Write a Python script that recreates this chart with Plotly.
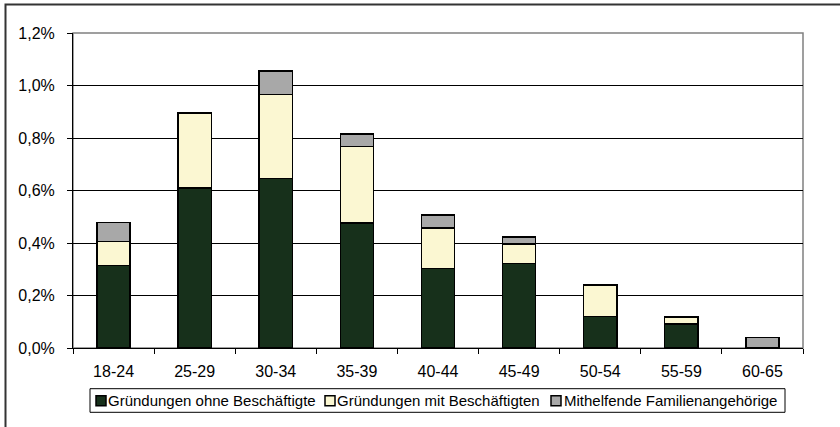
import plotly.graph_objects as go

categories = ["18-24", "25-29", "30-34", "35-39", "40-44", "45-49", "50-54", "55-59", "60-65"]
# values in percent
ohne = [0.315, 0.610, 0.645, 0.476, 0.303, 0.322, 0.120, 0.091, 0.0]
mit = [0.091, 0.286, 0.321, 0.292, 0.154, 0.075, 0.120, 0.027, 0.0]
mithelfend = [0.072, 0.0, 0.089, 0.048, 0.050, 0.026, 0.0, 0.0, 0.040]
series_names = ["Gründungen ohne Beschäftigte", "Gründungen mit Beschäftigten", "Mithelfende Familienangehörige"]
colors = ["#17301b", "#fbf7d2", "#a8a8a8"]
y_ticks = [0, 0.2, 0.4, 0.6, 0.8, 1.0, 1.2]

fig = go.Figure()
for name, vals, col in zip(series_names, [ohne, mit, mithelfend], colors):
    fig.add_trace(go.Bar(
        x=categories, y=[v / 100 for v in vals], name=name,
        marker=dict(color=col, line=dict(color="#000000", width=1.5)),
    ))

L, R, T, B = 73, 37, 33, 79
W, H = 840, 427
pw, ph = W - L - R, H - T - B

def px(x):
    return (x - L) / pw

def py(y):
    return (H - B - y) / ph

shapes = [
    dict(type="rect", xref="paper", yref="paper", x0=0, x1=1, y0=0, y1=1,
         line=dict(color="#808080", width=1.5), layer="below"),
    dict(type="rect", xref="paper", yref="paper",
         x0=px(5.5), x1=px(850), y0=py(440), y1=py(4.5),
         line=dict(color="#333333", width=2), layer="below"),
    # legend box
    dict(type="rect", xref="paper", yref="paper",
         x0=px(90), x1=px(785), y0=py(412.3), y1=py(388.7),
         line=dict(color="#000000", width=1), fillcolor="white"),
]
annotations = []
legend_sym_x = [96, 325, 551]
legend_txt_x = [108, 337, 564]
for name, col, sx, tx in zip(series_names, colors, legend_sym_x, legend_txt_x):
    shapes.append(dict(type="rect", xref="paper", yref="paper",
                       x0=px(sx), x1=px(sx + 10), y0=py(405.7), y1=py(395.7),
                       line=dict(color="#000000", width=1.5), fillcolor=col))
    annotations.append(dict(xref="paper", yref="paper", x=px(tx), y=py(400.7),
                            xanchor="left", yanchor="middle", text=name, showarrow=False,
                            font=dict(size=15), xshift=-2))

fig.update_layout(
    width=W, height=H,
    margin=dict(l=L, r=R, t=T, b=B, pad=0),
    barmode="stack", bargap=0.59,
    plot_bgcolor="white", paper_bgcolor="white",
    separators=",.",
    font=dict(family="Liberation Sans, Arial, sans-serif", size=15, color="#000000"),
    showlegend=False,
    xaxis=dict(
        showline=True, linecolor="#000000", linewidth=1,
        ticks="outside", ticklen=5, tickcolor="#000000", tickson="boundaries",
        showgrid=False, tickfont=dict(size=16), ticklabelstandoff=9,
    ),
    yaxis=dict(
        range=[0, 0.012], tickvals=[v / 100 for v in y_ticks], tickformat=".1%",
        showline=True, linecolor="#000000", linewidth=1,
        ticks="outside", ticklen=5, tickcolor="#000000",
        showgrid=True, gridcolor="#000000", gridwidth=1,
        zeroline=False, tickfont=dict(size=16), ticklabelstandoff=9,
    ),
    shapes=shapes,
    annotations=annotations,
)

fig.write_html("out.html")
